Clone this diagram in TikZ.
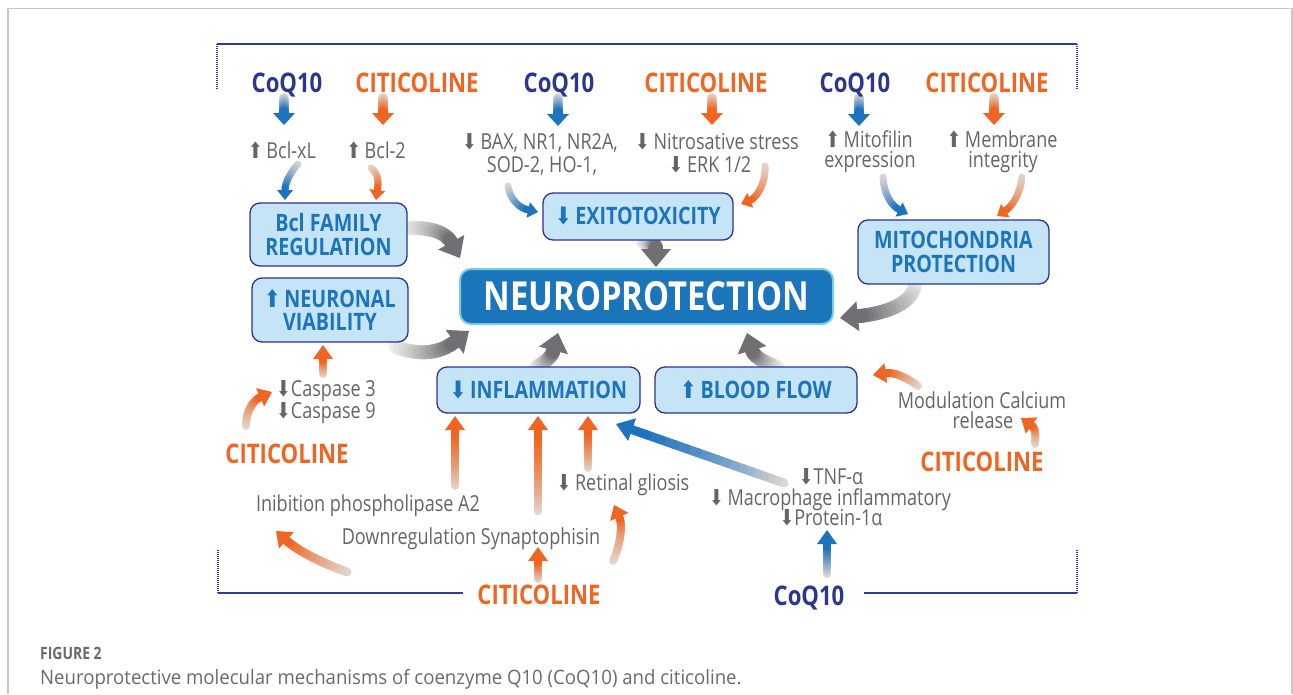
\documentclass[tikz,border=0pt]{standalone}
\usepackage{fontspec}
\usepackage{graphicx}
\usetikzlibrary{calc}
\newfontfamily\cf[FakeStretch=0.82]{Open Sans}
\newfontfamily\capf[FakeStretch=0.94]{Open Sans}
\newfontfamily\dv{DejaVu Sans}
\newcommand\upa{{\dv\scalebox{0.8}[1.0]{⬆}}}
\newcommand\dna{{\dv\scalebox{0.8}[1.0]{⬇}}}
\definecolor{cqnavy}{RGB}{43,54,140}
\definecolor{orng}{RGB}{241,101,34}
\definecolor{txtgray}{RGB}{100,101,104}
\definecolor{boxfill}{RGB}{197,229,246}
\definecolor{boxline}{RGB}{46,49,146}
\definecolor{boxtext}{RGB}{28,117,188}
\definecolor{neurofill}{RGB}{27,117,187}
\definecolor{neuroline}{RGB}{120,205,225}
\definecolor{tailgray}{RGB}{238,235,232}
\definecolor{headgray}{RGB}{112,112,116}
\definecolor{tailblue}{RGB}{220,215,212}
\definecolor{headblue}{RGB}{30,115,190}
\definecolor{tailor}{RGB}{225,212,202}
\definecolor{heador}{RGB}{241,101,34}
\definecolor{brk}{RGB}{52,58,155}
\definecolor{framegray}{RGB}{200,200,200}
\definecolor{capgray}{RGB}{105,106,108}
% gradient arrow types: tail colour, head colour, shaft width, half head width, head length
\newcommand\setga[5]{\def\gaT{#1}\def\gaH{#2}\def\gaW{#3}\def\gaHW{#4}\def\gaHL{#5}}
\newcommand\tgray{\setga{tailgray}{headgray}{14}{15}{18}}
\newcommand\ttopb{\setga{tailblue}{headblue}{10}{11}{12}}
\newcommand\ttopo{\setga{tailor}{heador}{10}{11}{12}}
\newcommand\tsb{\setga{tailblue}{headblue}{7}{8}{10}}
\newcommand\tso{\setga{tailor}{heador}{7}{8}{10}}
\newcommand\tmo{\setga{tailor}{heador}{8}{10}{14}}
\newcommand\tmb{\setga{tailblue}{headblue}{8}{10}{14}}
\newcommand\tdb{\setga{tailblue}{headblue}{9}{12}{17}}
\newcommand\tco{\setga{tailor}{heador}{8}{10}{13}}
\newcommand\tcw{\setga{tailor}{heador}{9}{11}{14}}
\newcommand\garr[5]{%
  \begingroup #1%
  \coordinate (gB) at ($#5!\gaHL pt!#4$);
  \path #2 .. controls #3 and #4 .. (gB)
    \foreach \k [evaluate=\k as \p using \k/16] in {0,...,16}{coordinate[pos=\p] (g\k)};
  \foreach \k [evaluate=\k as \pc using int(100*\k/15), evaluate=\k as \kk using int(\k+1)] in {0,...,15}{%
    \draw[line width=\gaW pt, line cap=round, color=\gaH!\pc!\gaT] (g\k) -- (g\kk);}
  \fill[\gaH] #5 -- ($(gB)!\gaHW pt!90:#5$) -- ($(gB)!\gaHW pt!-90:#5$) -- cycle;
  \endgroup}
\newcommand\sarr[3]{%
  \coordinate (sa1) at ($#2!0.2!#3$);
  \coordinate (sa2) at ($#2!0.4!#3$);
  \garr{#1}{#2}{(sa1)}{(sa2)}{#3}}
\begin{document}
\begin{tikzpicture}[x=1pt,y=-1pt,
  drugq/.style={font=\cf\bfseries\fontsize{27}{27}\selectfont, text=cqnavy, inner sep=0pt, anchor=base},
  drugc/.style={drugq, text=orng},
  lbl/.style={font=\cf\fontsize{22}{22}\selectfont, text=txtgray, inner sep=0pt, anchor=base},
  box/.style={draw=boxline, fill=boxfill, line width=1.3pt, rounded corners=10pt, text=boxtext,
    font=\cf\bfseries\fontsize{24}{23.5}\selectfont, align=center, inner sep=0pt},
  brkline/.style={draw=brk, line width=1.4pt},
  brkdot/.style={draw=brk, line width=1.6pt, dash pattern=on 1.2pt off 0.8pt}]
\useasboundingbox (0,0) rectangle (1293,694);
% outer frame
\draw[framegray, line width=1.4pt] (8,694) -- (8,8.5) -- (1292,8.5) -- (1292,694);
% bracket
\draw[brkline] (217,44) -- (1077,44);
\draw[brkdot] (217,44) -- (217,89);
\draw[brkdot] (1077,44) -- (1077,89);
\draw[brkdot] (218,550) -- (218,593);
\draw[brkdot] (1077,550) -- (1077,593);
\draw[brkline] (218,593) -- (463,593);
\draw[brkline] (864,593) -- (1077,593);
% top short arrows
\sarr{\ttopb}{(284,98)}{(284,125)}
\sarr{\ttopo}{(383,98)}{(383,125)}
\sarr{\ttopb}{(558,98)}{(558,126)}
\sarr{\ttopo}{(712,98)}{(712,125)}
\sarr{\ttopb}{(859,98)}{(859,126)}
\sarr{\ttopo}{(994,98)}{(994,125)}
% small curved arrows into boxes
\garr{\tsb}{(298,164)}{(290,173)}{(285,183)}{(285,200)}
\garr{\tso}{(371,168)}{(380,175)}{(378,185)}{(376,200)}
\garr{\tsb}{(508,186)}{(510,199)}{(519,208)}{(538,212)}
\garr{\tso}{(765,166)}{(766,184)}{(756,198)}{(741,204)}
\garr{\tsb}{(883,177)}{(884,195)}{(892,206)}{(908,214)}
\garr{\tso}{(1022,177)}{(1020,196)}{(1011,207)}{(997,216)}
% gray arrows to neuroprotection
\garr{\tgray}{(406,228)}{(432,227)}{(446,233)}{(460,258)}
\garr{\tgray}{(396,347)}{(420,356)}{(440,353)}{(469,331)}
\garr{\tgray}{(643,242)}{(652,243)}{(656,244)}{(656,267)}
\garr{\tgray}{(915,285)}{(912,306)}{(880,314)}{(840,318)}
\garr{\tgray}{(536,367)}{(546,362)}{(552,356)}{(558,333)}
\garr{\tgray}{(777,367)}{(764,362)}{(754,357)}{(747,333)}
% straight arrows
\sarr{\tmo}{(323,374)}{(323,345)}
\sarr{\tmo}{(455,486)}{(455,416)}
\sarr{\tmo}{(538,511)}{(538,416)}
\sarr{\tmo}{(588,468)}{(588,416)}
\sarr{\tmo}{(538,579)}{(538,547)}
\sarr{\tmb}{(827,574)}{(827,530)}
\sarr{\tdb}{(784,483)}{(616,424)}
% curved orange arrows
\garr{\tco}{(246,426)}{(246,410)}{(254,400)}{(272,392)}
\garr{\tcw}{(347,572)}{(322,563)}{(298,551)}{(276,531)}
\garr{\tco}{(613,561)}{(622,541)}{(622,523)}{(614,505)}
\garr{\tco}{(918,386)}{(906,377)}{(894,372)}{(873,375)}
\garr{\tco}{(1035,444)}{(1036,433)}{(1035,428)}{(1021,418)}
% boxes
\node[box, minimum width=157pt, minimum height=63pt] (bcl) at (328.5,234.5) {Bcl FAMILY\\REGULATION};
\node[box, minimum width=156pt, minimum height=64pt] (viab) at (330,310) {\upa\,NEURONAL\\VIABILITY};
\node[box, minimum width=190pt, minimum height=47pt] (exito) at (638,216.5) {\dna\,EXITOTOXICITY};
\node[box, minimum width=191pt, minimum height=64pt] (mito) at (953.5,252) {MITOCHONDRIA\\PROTECTION};
\node[box, minimum width=203pt, minimum height=46pt] (infl) at (538.5,390) {\dna\,INFLAMMATION};
\node[box, minimum width=202pt, minimum height=46pt] (blood) at (756,390) {\upa\,BLOOD FLOW};
\node[draw=neuroline, fill=neurofill, line width=2pt, rounded corners=11pt, minimum width=373pt,
  minimum height=55pt, inner sep=0pt, text=white, font=\cf\bfseries\fontsize{40}{40}\selectfont] (np) at (646.5,296.5) {NEUROPROTECTION};
% drug labels
\node[drugq] (coq1) at (287,92) {CoQ10};
\node[drugc] (cit1) at (417,92) {CITICOLINE};
\node[drugq] (coq2) at (559,92) {CoQ10};
\node[drugc] (cit2) at (706,92) {CITICOLINE};
\node[drugq] (coq3) at (855,92) {CoQ10};
\node[drugc] (cit3) at (987,92) {CITICOLINE};
\node[drugc] (cit4) at (287,463) {CITICOLINE};
\node[drugc] (cit5) at (539,604) {CITICOLINE};
\node[drugq] (coq4) at (809,605) {CoQ10};
\node[drugc] (cit6) at (982,471) {CITICOLINE};
% gray labels
\node[lbl] (bclxl) at (282,158) {\upa\,Bcl-xL};
\node[lbl] (bcl2) at (376,158) {\upa\,Bcl-2};
\node[lbl] (bax1) at (540,149) {\dna\,BAX, NR1, NR2A,};
\node[lbl] (bax2) at (542,172) {SOD-2, HO-1,};
\node[lbl] (nit1) at (717,149) {\dna\,Nitrosative stress};
\node[lbl] (nit2) at (710,172) {\dna\,ERK 1/2};
\node[lbl] (mit1) at (869,147) {\upa\,Mitofilin};
\node[lbl] (mit2) at (870,167) {expression};
\node[lbl] (mem1) at (1002,147) {\upa\,Membrane};
\node[lbl] (mem2) at (1003,167) {integrity};
\node[lbl, anchor=base west] (cas1) at (276,396) {\dna Caspase 3};
\node[lbl, anchor=base west] (cas2) at (276,418) {\dna Caspase 9};
\node[lbl] (inib) at (368,511) {Inibition phospholipase A2};
\node[lbl] (down) at (471,544) {Downregulation Synaptophisin};
\node[lbl] (ret) at (623,490) {\dna\,Retinal gliosis};
\node[lbl] (tnf) at (831,484) {\dna TNF-α};
\node[lbl] (mac) at (830,505) {\dna\,Macrophage inflammatory};
\node[lbl] (prot) at (831,525) {\dna Protein-1α};
\node[lbl] (mod1) at (982,408) {Modulation Calcium};
\node[lbl] (mod2) at (983,428) {release};
% caption
\node[anchor=base west, inner sep=0pt, text=capgray, font=\cf\bfseries\fontsize{17}{17}\selectfont] (figno) at (40,659) {FIGURE 2};
\node[anchor=base west, inner sep=0pt, text=capgray, font=\capf\fontsize{19.8}{20}\selectfont] (cap) at (40,684) {Neuroprotective molecular mechanisms of coenzyme Q10 (CoQ10) and citicoline.};
\end{tikzpicture}
\end{document}
